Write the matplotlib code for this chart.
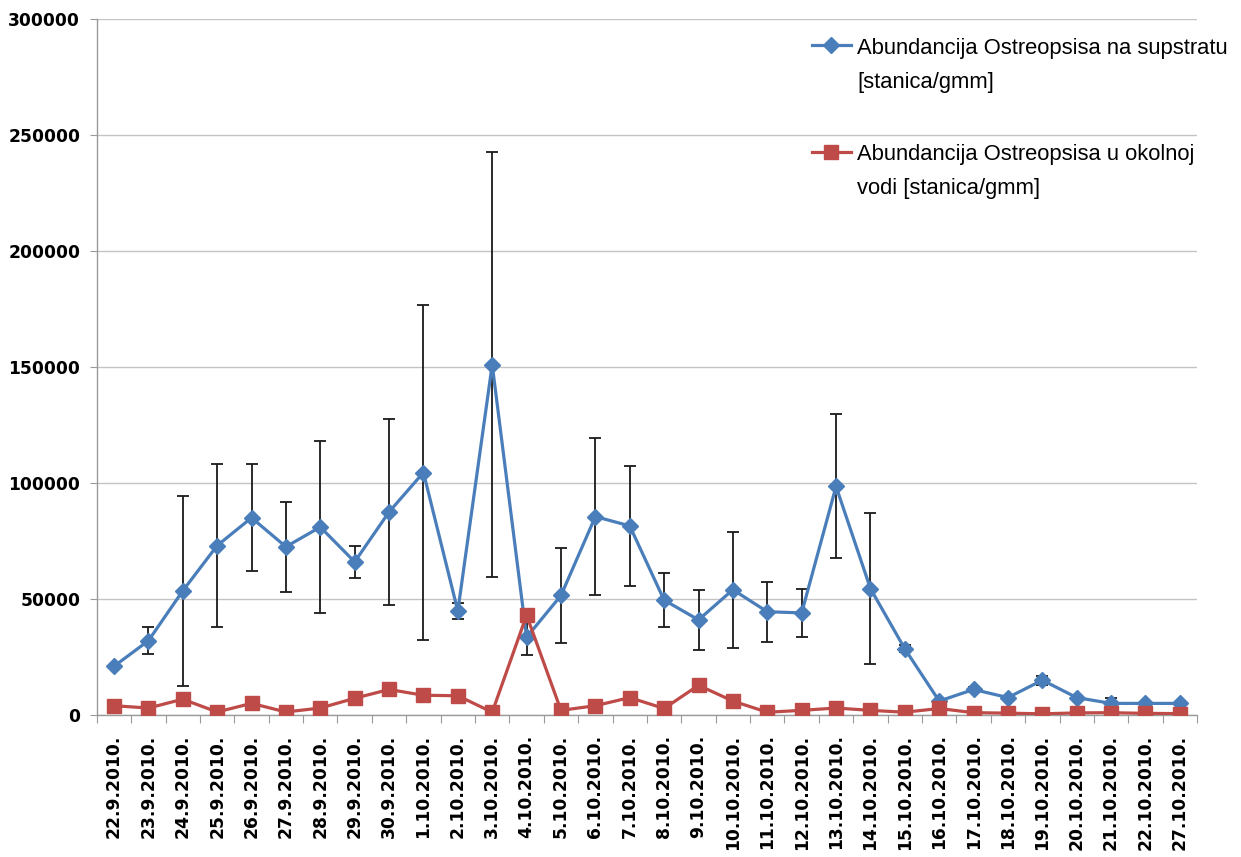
import numpy as np
import matplotlib
matplotlib.use('Agg')
import matplotlib.pyplot as plt

###############################################################################
# DATA
###############################################################################
datumi = ['22.9.2010.', '23.9.2010.', '24.9.2010.', '25.9.2010.', '26.9.2010.',
          '27.9.2010.', '28.9.2010.', '29.9.2010.', '30.9.2010.', '1.10.2010.',
          '2.10.2010.', '3.10.2010.', '4.10.2010.', '5.10.2010.', '6.10.2010.',
          '7.10.2010.', '8.10.2010.', '9.10.2010.', '10.10.2010.', '11.10.2010.',
          '12.10.2010.', '13.10.2010.', '14.10.2010.', '15.10.2010.', '16.10.2010.',
          '17.10.2010.', '18.10.2010.', '19.10.2010.', '20.10.2010.', '21.10.2010.',
          '22.10.2010.', '27.10.2010.']

supstrat = [21000, 32000, 53500, 73000, 85000, 72500, 81000, 66000, 87500, 104500,
            44800, 151000, 33500, 51500, 85500, 81500, 49500, 41000, 54000, 44500,
            44000, 98500, 54500, 28500, 6000, 11000, 7500, 15000, 7500, 5000,
            5000, 5000]

supstrat_err = [0, 5800, 41000, 35000, 23000, 19500, 37000, 7000, 40000, 72000,
                3500, 91500, 7500, 20300, 34000, 26000, 11700, 13000, 25000, 13000,
                10500, 31000, 32500, 1500, 0, 1000, 0, 2000, 500, 2500,
                0, 0]

voda = [4000, 3000, 6800, 1300, 5000, 1300, 3000, 7200, 11000, 8500,
        8300, 1200, 43000, 2000, 4000, 7500, 2800, 12800, 6000, 1200,
        2000, 3000, 2000, 1200, 2800, 1000, 800, 500, 900, 1000,
        700, 600]

label_supstrat = 'Abundancija Ostreopsisa na supstratu\n[stanica/gmm]'
label_voda = 'Abundancija Ostreopsisa u okolnoj\nvodi [stanica/gmm]'

###############################################################################
# PLOT
###############################################################################
plt.rcParams['font.family'] = ['Liberation Sans', 'DejaVu Sans']

fig = plt.figure(figsize=(12.41, 8.57), dpi=100)
ax = fig.add_axes([0.078, 0.1657, 0.8866, 0.8123])

x = np.arange(len(datumi))
plava = '#4A7EBB'
crvena = '#BE4B48'

# Error bars (behind the lines)
ax.errorbar(x, supstrat, yerr=supstrat_err, fmt='none', ecolor='#1a1a1a',
            elinewidth=1.3, capsize=4, capthick=1.3, zorder=2)

ax.plot(x, supstrat, color=plava, lw=2.3, marker='D', markersize=8.5,
        label=label_supstrat, zorder=3)
ax.plot(x, voda, color=crvena, lw=2.3, marker='s', markersize=10,
        label=label_voda, zorder=4)

# Axes
ax.set_xlim(-0.5, len(datumi) - 0.5)
ax.set_ylim(0, 300000)
ax.set_yticks(np.arange(0, 300001, 50000))
ax.yaxis.grid(True, color='#C4C4C4', lw=1.0)
ax.set_axisbelow(True)

for s in ['top', 'right']:
    ax.spines[s].set_visible(False)
for s in ['left', 'bottom']:
    ax.spines[s].set_color('#9A9A9A')
    ax.spines[s].set_linewidth(1.0)

# x ticks: marks between categories, labels at centers
ax.set_xticks(np.arange(-0.5, len(datumi), 1.0))
ax.set_xticklabels([])
ax.set_xticks(x, minor=True)
ax.set_xticklabels(datumi, minor=True, rotation=90, fontsize=12.3,
                   fontweight='bold', family='DejaVu Sans')
ax.tick_params(axis='x', which='major', length=6, color='#9A9A9A')
ax.tick_params(axis='x', which='minor', length=0, pad=14)

ax.set_yticklabels([str(v) for v in range(0, 300001, 50000)], fontsize=12.3,
                   fontweight='bold', family='DejaVu Sans')
ax.tick_params(axis='y', length=5, color='#9A9A9A', pad=7)

# Legend
leg = fig.legend(loc='upper left', bbox_to_anchor=(0.654, 0.956), frameon=False,
                 fontsize=15.8, handlelength=1.8, handletextpad=0.28,
                 labelspacing=2.35, borderpad=0, borderaxespad=0)
for t in leg.get_texts():
    t.set_linespacing(1.8)
for col in leg._legend_handle_box.get_children():
    for hp in col.get_children():
        hp.align = 'top'

plt.savefig('out.png', dpi=100)
